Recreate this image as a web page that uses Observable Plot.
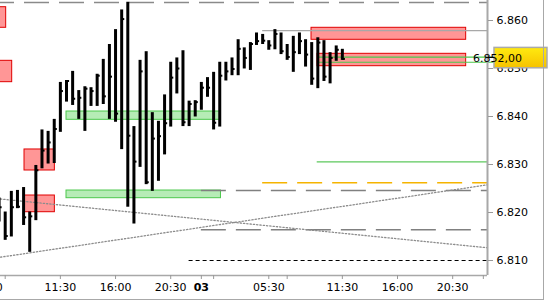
<!DOCTYPE html>
<html><head><meta charset="utf-8">
<script src="https://cdn.jsdelivr.net/npm/d3@7"></script>
<script src="https://cdn.jsdelivr.net/npm/@observablehq/plot@0.6"></script>
<style>
html,body{margin:0;padding:0;background:#fff;}
#wrap{position:relative;width:550px;height:300px;overflow:hidden;}
#frame{position:absolute;left:0;top:0;width:544px;height:300px;border-right:1px solid #a8a8a8;border-bottom:1px solid #a8a8a8;box-sizing:border-box;pointer-events:none;}
svg{display:block;}
</style></head><body><div id="wrap"><div id="frame"></div></div>
<script>
// ---- 30-minute HLC bars (bar index 0 = 07:00 of day 02; day 03 starts at index 32) ----
const firstBar = -1;
const highs = [6.8230,6.8201,6.8244,6.8246,6.8252,6.8201,6.8298,6.8372,6.8369,6.8394,
  6.8471,6.8475,6.8494,6.8454,6.8462,6.8460,6.8488,6.8519,6.8550,6.8581,
  6.8622,6.8638,6.8379,6.8517,6.8535,6.8408,6.8390,6.8445,6.8513,6.8522,
  6.8537,6.8432,6.8433,6.8471,6.8481,6.8492,6.8513,6.8513,6.8522,6.8560,
  6.8543,6.8554,6.8574,6.8571,6.8558,6.8581,6.8574,6.8550,6.8567,6.8574,
  6.8560,6.8554,6.8564,6.8558,6.8533,6.8547,6.8540];
const lows = [6.8180,6.8142,6.8149,6.8208,6.8173,6.8117,6.8183,6.8291,6.8301,6.8302,
  6.8367,6.8430,6.8423,6.8394,6.8369,6.8421,6.8421,6.8425,6.8394,6.8388,
  6.8331,6.8211,6.8176,6.8294,6.8258,6.8244,6.8265,6.8320,6.8378,6.8447,
  6.8379,6.8379,6.8399,6.8413,6.8440,6.8372,6.8378,6.8474,6.8485,6.8485,
  6.8499,6.8496,6.8548,6.8550,6.8538,6.8539,6.8529,6.8517,6.8492,6.8529,
  6.8503,6.8465,6.8458,6.8473,6.8468,6.8515,6.8517];
const closes = [6.8211,6.8151,6.8211,6.8212,6.8190,6.8192,6.8288,6.8329,6.8346,6.8374,
  6.8453,6.8474,6.8437,6.8439,6.8458,6.8453,6.8485,6.8442,6.8483,6.8406,
  6.8603,6.8360,6.8306,6.8494,6.8263,6.8354,6.8359,6.8386,6.8481,6.8500,
  6.8388,6.8426,6.8430,6.8460,6.8460,6.8387,6.8485,6.8494,6.8499,6.8541,
  6.8522,6.8551,6.8557,6.8558,6.8548,6.8572,6.8536,6.8524,6.8534,6.8557,
  6.8529,6.8479,6.8554,6.8483,6.8522,6.8539,6.8520];
const lastPrice = 6.852;
const lastPriceLabel = "6.852,00";

// ---- axis ticks ----
const xTickBars = [-3, 9, 18, 27, 43, 55, 64, 73];
const xTickLabels = ["05:30","11:30","16:00","20:30","05:30","11:30","16:00","20:30"];
const dayBar = [32];
const dayLabel = "03";
const minorTickBars = [0, 34, 46, 78];
const yTicks = [6.81, 6.82, 6.83, 6.84, 6.85, 6.86];
const xDomain = [-0.767, 78.68];
const yDomain = [6.806875, 6.8641667];

// ---- zones (bar from, bar to, price top, price bottom) ----
const redFrom   = [-6, -6, 3.15, 3.15, 49.97, 50.95];
const redTo     = [0.16, 1.14, 8.1, 8.1, 75.2, 75.2];
const redTop    = [6.86277, 6.85160, 6.83313, 6.82354, 6.85848, 6.85306];
const redBottom = [6.85848, 6.84715, 6.82875, 6.82006, 6.85598, 6.85048];
const greenFrom = [10, 10];
const greenTo   = [35.2, 35.2];
const greenTop  = [6.84104, 6.82458];
const greenBottom = [6.83931, 6.82298];

// ---- level lines ----
const topDashPrice = 6.86375;
const greyDashPrices = [6.82458, 6.8164];
const greyDashFrom = 32;
const blackDashPrice = 6.8100;
const blackDashFrom = 30;
const orangeDashPrice = 6.8262;
const orangeDashFrom = 42;
const greySolidPrice = 6.8579;
const greySolidFrom = 42;
const greenLinePrice = 6.83056;
const greenLineFrom = 50.9;
const greenPairPrices = [6.85235, 6.8513];
const greenPairFrom = 50.95;
const greenPairTo = 79.8;

// ---- dotted trend lines (bar, price) ----
const trendA = [[-0.767, 6.82281], [78.68, 6.81265]];
const trendB = [[-0.767, 6.81069], [78.68, 6.82577]];

const bars = highs.map((h, k) => ({i: firstBar + k, h, l: lows[k], c: closes[k]}));
const reds = redFrom.map((f, k) => ({x1: f, x2: redTo[k], y1: redTop[k], y2: redBottom[k]}));
const greens = greenFrom.map((f, k) => ({x1: f, x2: greenTo[k], y1: greenTop[k], y2: greenBottom[k]}));
const xLab = new Map(xTickBars.map((b, k) => [b, xTickLabels[k]]));
const xEnd = xDomain[1];

const chart = Plot.plot({
  width: 550, height: 300,
  marginLeft: 0, marginRight: 63, marginTop: 0, marginBottom: 25,
  style: {fontFamily: "DejaVu Sans", fontSize: "11px", background: "white", color: "#000"},
  x: {type: "linear", domain: xDomain},
  y: {type: "linear", domain: yDomain},
  marks: [
    Plot.rect(reds, {x1: "x1", x2: "x2", y1: "y1", y2: "y2", fill: "#ff9696", stroke: "#e00000", strokeWidth: 1}),
    Plot.rect(greens, {x1: "x1", x2: "x2", y1: "y1", y2: "y2", fill: "#b6ecb6", stroke: "#4cc84c", strokeWidth: 1}),
    Plot.ruleY([topDashPrice], {x1: xDomain[0], x2: xEnd, stroke: "#8a8a8a", strokeWidth: 1.5, strokeDasharray: "25,10", strokeDashoffset: 11}),
    Plot.ruleY(greyDashPrices, {x1: greyDashFrom, x2: xEnd, stroke: "#808080", strokeWidth: 1.5, strokeDasharray: "25,10"}),
    Plot.ruleY([blackDashPrice], {x1: blackDashFrom, x2: xEnd, stroke: "#000", strokeWidth: 1.2, strokeDasharray: "4,3"}),
    Plot.ruleY([orangeDashPrice], {x1: orangeDashFrom, x2: xEnd, stroke: "#f5b400", strokeWidth: 1.5, strokeDasharray: "25,10"}),
    Plot.ruleY([greySolidPrice], {x1: greySolidFrom, x2: xEnd, stroke: "#a8a8a8", strokeWidth: 1.3}),
    Plot.ruleY([greenLinePrice], {x1: greenLineFrom, x2: xEnd, stroke: "#5cc85c", strokeWidth: 1.2}),
    Plot.ruleY(greenPairPrices, {x1: greenPairFrom, x2: greenPairTo, stroke: "#4cc84c", strokeWidth: 1.2}),
    Plot.line(trendA, {x: d => d[0], y: d => d[1], stroke: "#8c8c8c", strokeWidth: 1.3, strokeDasharray: "1.3,2"}),
    Plot.line(trendB, {x: d => d[0], y: d => d[1], stroke: "#8c8c8c", strokeWidth: 1.3, strokeDasharray: "1.3,2"}),
    Plot.ruleX(bars, {x: "i", y1: "l", y2: "h", stroke: "#000", strokeWidth: 3}),
    Plot.ruleY(bars, {x1: "i", x2: d => d.i + 0.5, y: "c", stroke: "#000", strokeWidth: 2}),
    Plot.ruleY([yDomain[0]], {stroke: "#a8a8a8", strokeWidth: 1.5}),
    Plot.ruleX([xEnd], {stroke: "#a8a8a8", strokeWidth: 2}),
    Plot.axisY({anchor: "right", ticks: yTicks, tickFormat: d3.format(".3f"), tickSize: 5, tickPadding: 4, stroke: "#999", fill: "#000", label: null}),
    Plot.axisX({anchor: "bottom", ticks: xTickBars, tickFormat: d => xLab.get(d), tickSize: 4, tickPadding: 4, stroke: "#999", fill: "#000", label: null}),
    Plot.axisX({anchor: "bottom", ticks: dayBar, tickFormat: () => dayLabel, tickSize: 4, tickPadding: 4, stroke: "#999", fill: "#000", fontWeight: "bold", label: null}),
    Plot.axisX({anchor: "bottom", ticks: minorTickBars, tickFormat: () => "", tickSize: 4, stroke: "#999", label: null})
  ]
});

document.getElementById("wrap").insertBefore(chart, document.getElementById("frame"));

// current price marker on the right axis
const svg = d3.select(chart);
const yP = chart.scale("y").apply(lastPrice);
const xR = chart.scale("x").apply(xEnd);
const defs = svg.append("defs");
const grad = defs.append("linearGradient").attr("id", "gold").attr("x1", 0).attr("y1", 0).attr("x2", 0).attr("y2", 1);
grad.append("stop").attr("offset", "0%").attr("stop-color", "#ffea10");
grad.append("stop").attr("offset", "100%").attr("stop-color", "#f6c200");
const g = svg.append("g");
g.append("line").attr("x1", xR + 1).attr("x2", xR + 7).attr("y1", yP - 1).attr("y2", yP - 1).attr("stroke", "#000").attr("stroke-width", 1.2);
g.append("rect").attr("x", xR + 7).attr("y", yP - 11).attr("width", 53).attr("height", 20.4)
  .attr("fill", "url(#gold)").attr("stroke", "#aaa").attr("stroke-width", 1.5);
g.append("text").attr("x", xR + 10.5).attr("y", yP - 0.8).attr("dy", "0.36em")
  .attr("font-family", "DejaVu Sans").attr("font-size", 11).attr("fill", "#000").text(lastPriceLabel);
</script>
</body></html>
